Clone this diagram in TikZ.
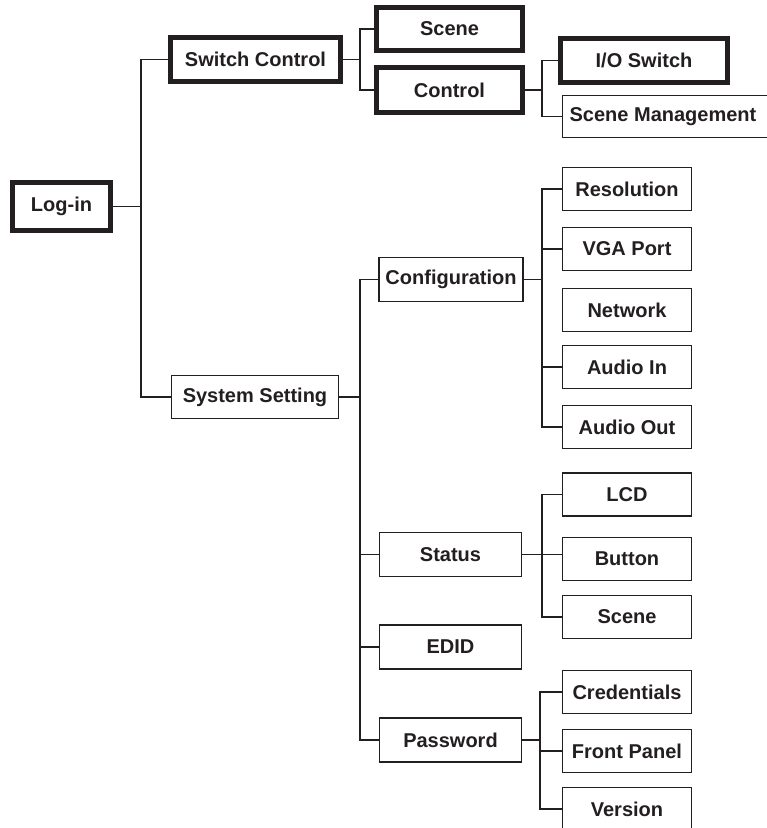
\documentclass[tikz,border=0pt]{standalone}
\usepackage{fontspec}
\setmainfont{Liberation Sans}
\usepackage{tikz}
\definecolor{ink}{HTML}{231F20}

\begin{document}
\begin{tikzpicture}[
      x=1pt,y=-1pt,
      menu/.style={rectangle,draw=ink,line width=1.6pt,inner sep=0pt,
        minimum width=129pt,minimum height=43pt,text=ink,
        font=\fontsize{20}{24}\selectfont\bfseries},
      menubold/.style={menu,line width=5pt},
      branch/.style={draw=ink,line width=1.4pt}
      ]
      \useasboundingbox (0,0) rectangle (767,828);
      % top level
      \node[menubold,minimum width=98pt,minimum height=48pt] (login) at (61.5,206.5) {Log-in};
      \node[menubold,minimum width=170pt,minimum height=44pt] (swctrl) at (255.5,59.5) {Switch Control};
      \node[menu,minimum width=167pt] (syset) at (255,397) {System Setting};
      % switch control
      \node[menubold,minimum width=146pt] (scene) at (449.5,29) {Scene};
      \node[menubold,minimum width=146pt,minimum height=45pt] (control) at (449.5,90) {Control};
      \node[menubold,minimum width=167pt,minimum height=44pt] (ioswitch) at (644,60.5) {I/O Switch};
      \node[menu,minimum width=210pt,minimum height=42pt] (scenemgmt) at (667.5,116.5) {Scene Management\hspace*{9pt}};
      % system setting
      \node[menu,minimum width=144pt,minimum height=44pt] (config) at (451,279.5) {Configuration};
      \node[menu,minimum width=142pt,minimum height=44pt] (status) at (450.5,554.5) {Status};
      \node[menu,minimum width=142pt,minimum height=44pt] (edid) at (450.5,647) {EDID};
      \node[menu,minimum width=142pt,minimum height=44pt] (password) at (450.5,740) {Password};
      % configuration
      \node[menu] (resolution) at (627,189) {Resolution};
      \node[menu] (vgaport) at (627,249) {VGA Port};
      \node[menu] (network) at (627,310) {Network};
      \node[menu] (audioin) at (627,367) {Audio In};
      \node[menu] (audioout) at (627,427) {Audio Out};
      % status
      \node[menu] (lcd) at (627,494.5) {LCD};
      \node[menu] (button) at (627,559) {Button};
      \node[menu] (statscene) at (627,617) {Scene};
      % password
      \node[menu] (credentials) at (627,692) {Credentials};
      \node[menu] (frontpanel) at (627,751) {Front Panel};
      \node[menu] (version) at (627,809) {Version};

      \coordinate (t1) at (141,0);
      \coordinate (t2) at (360,0);
      \coordinate (t3) at (542,0);
      \coordinate (t4) at (540,0);

      \draw[branch] (login.east) -- (t1 |- login.east);
      \draw[branch] (swctrl.west) -| (t1 |- syset.west) -- (syset.west);

      \draw[branch] (swctrl.east) -- (t2 |- swctrl.east);
      \draw[branch] (scene.west) -| (t2 |- control.west) -- (control.west);

      \draw[branch] (control.east) -- (t3 |- control.east);
      \draw[branch] (ioswitch.west) -| (t3 |- scenemgmt.west) -- (scenemgmt.west);

      \draw[branch] (syset.east) -- (t2 |- syset.east);
      \draw[branch] (config.west) -| (t2 |- password.west) -- (password.west);
      \foreach \n in {status,edid}
        \draw[branch] (t2 |- \n.west) -- (\n.west);

      \draw[branch] (config.east) -- (t3 |- config.east);
      \draw[branch] (resolution.west) -| (t3 |- audioout.west) -- (audioout.west);
      \foreach \n in {vgaport,audioin}
        \draw[branch] (t3 |- \n.west) -- (\n.west);

      \draw[branch] (status.east) -- (button.west |- status.east);
      \draw[branch] (lcd.west) -| (t3 |- statscene.west) -- (statscene.west);

      \draw[branch] (password.east) -- (t4 |- password.east);
      \draw[branch] (credentials.west) -| (t4 |- version.west) -- (version.west);
      \draw[branch] (t4 |- frontpanel.west) -- (frontpanel.west);
    \end{tikzpicture}
\end{document}
